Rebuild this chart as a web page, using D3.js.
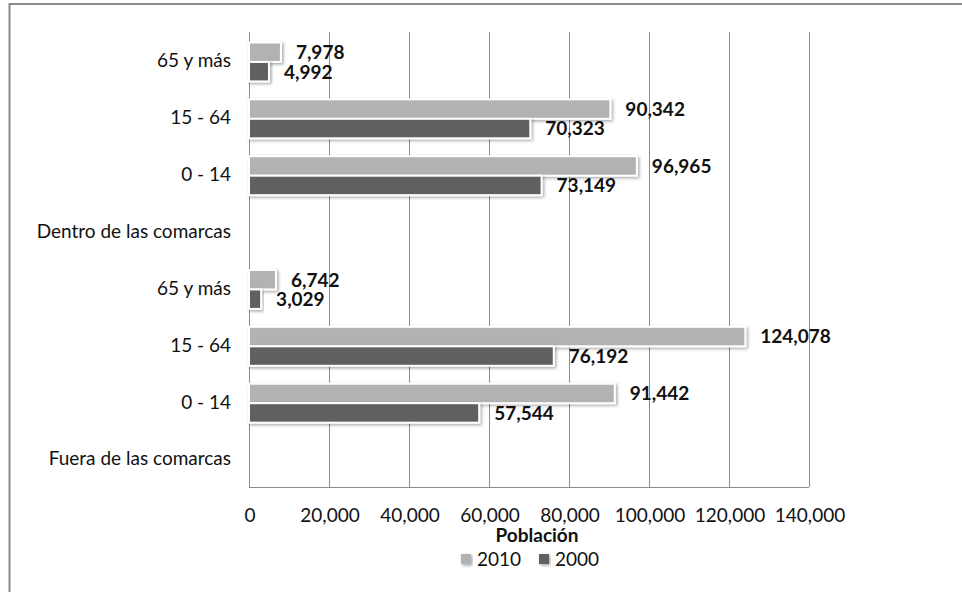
<!DOCTYPE html>
<html>
<head>
<meta charset="utf-8">
<script src="https://cdn.jsdelivr.net/npm/d3@7"></script>
<style>
  html, body { margin: 0; padding: 0; background: #fff; }
  svg { display: block; font-family: Lato, "Open Sans", sans-serif; }
</style>
</head>
<body>
<svg id="chart" width="962" height="592"></svg>
<script>
// Categories listed bottom-to-top, as in the chart
const categories = ["Fuera de las comarcas", "0 - 14", "15 - 64", "65 y más",
                    "Dentro de las comarcas", "0 - 14", "15 - 64", "65 y más"];
const series = ["2010", "2000"];
const values2010 = [null, 91442, 124078, 6742, null, 96965, 90342, 7978];
const values2000 = [null, 57544, 76192, 3029, null, 73149, 70323, 4992];
const xTicks = [0, 20000, 40000, 60000, 80000, 100000, 120000, 140000];
const xTitle = "Población";
const colors = { "2010": "#b2b2b2", "2000": "#606060" };

const svg = d3.select("#chart");
const W = 962, H = 592;
const plot = { left: 249, right: 809, top: 32, bottom: 487 };

// frame
svg.append("path")
  .attr("d", `M${W + 2},4 H9.5 V${H + 2}`)
  .attr("fill", "none").attr("stroke", "#8a8a8a").attr("stroke-width", 2);

const defs = svg.append("defs");
const f = defs.append("filter").attr("id", "shadow")
  .attr("x", "-10%").attr("y", "-30%").attr("width", "130%").attr("height", "170%");
f.append("feDropShadow").attr("dx", 1.5).attr("dy", 1.5).attr("stdDeviation", 1.4)
  .attr("flood-color", "#000").attr("flood-opacity", 0.35);

const x = d3.scaleLinear().domain([0, 140000]).range([plot.left, plot.right]);
const ids = d3.range(categories.length).reverse(); // top to bottom
const y = d3.scaleBand().domain(ids).range([plot.top, plot.bottom]).padding(0);
const ySub = d3.scaleBand().domain(series).range([0, y.bandwidth()])
  .paddingInner(0).paddingOuter(0.46);

// gridlines
svg.append("g").selectAll("line").data(xTicks).join("line")
  .attr("x1", d => x(d) + 0.5).attr("x2", d => x(d) + 0.5)
  .attr("y1", plot.top).attr("y2", plot.bottom)
  .attr("stroke", "#8c8c8c").attr("stroke-width", 1);
// bottom line
svg.append("line")
  .attr("x1", plot.left).attr("x2", plot.right)
  .attr("y1", plot.bottom + 0.5).attr("y2", plot.bottom + 0.5)
  .attr("stroke", "#8c8c8c").attr("stroke-width", 1);

// data
const rows = categories.map((c, i) => ({ i, c, "2010": values2010[i], "2000": values2000[i] }));
const fmt = d3.format(",");

const g = svg.append("g").attr("transform", "translate(0,1.5)");
rows.forEach(r => {
  series.forEach(s => {
    const v = r[s];
    if (v == null) return;
    const y0 = y(r.i) + ySub(s);
    g.append("rect")
      .attr("x", x(0))
      .attr("y", y0)
      .attr("width", x(v) - x(0))
      .attr("height", ySub.bandwidth())
      .attr("fill", colors[s])
      .attr("stroke", "#fff").attr("stroke-width", 2)
      .attr("filter", "url(#shadow)");
  });
});
rows.forEach(r => {
  series.forEach(s => {
    const v = r[s];
    if (v == null) return;
    const yc = y(r.i) + ySub(s) + ySub.bandwidth() / 2;
    g.append("text")
      .attr("x", x(v) + 15)
      .attr("y", yc)
      .attr("dy", "0.36em")
      .attr("font-size", 19).attr("font-weight", "bold")
      .attr("fill", "#111")
      .text(fmt(v));
  });
});

// category labels
svg.append("g").selectAll("text").data(rows).join("text")
  .attr("x", 231)
  .attr("y", d => y(d.i) + y.bandwidth() / 2)
  .attr("dy", "0.36em")
  .attr("text-anchor", "end")
  .attr("font-size", 19)
  .attr("fill", "#111")
  .text(d => d.c);

// x tick labels
svg.append("g").selectAll("text").data(xTicks).join("text")
  .attr("x", d => x(d) + 1)
  .attr("y", 515)
  .attr("dy", "0.36em")
  .attr("text-anchor", "middle")
  .attr("font-size", 19)
  .attr("fill", "#111")
  .text(d => fmt(d));

// axis title
svg.append("text")
  .attr("x", 537).attr("y", 535).attr("dy", "0.36em")
  .attr("text-anchor", "middle")
  .attr("font-size", 19).attr("font-weight", "bold")
  .attr("fill", "#111")
  .text(xTitle);

// legend
const legendX = [461, 539];
const lg = svg.append("g");
series.forEach((s, k) => {
  lg.append("rect")
    .attr("x", legendX[k]).attr("y", 554)
    .attr("width", 10).attr("height", 10)
    .attr("fill", colors[s])
    .attr("filter", "url(#shadow)");
  lg.append("text")
    .attr("x", legendX[k] + 16).attr("y", 559).attr("dy", "0.36em")
    .attr("font-size", 19).attr("fill", "#111")
    .text(s);
});
</script>
</body>
</html>
